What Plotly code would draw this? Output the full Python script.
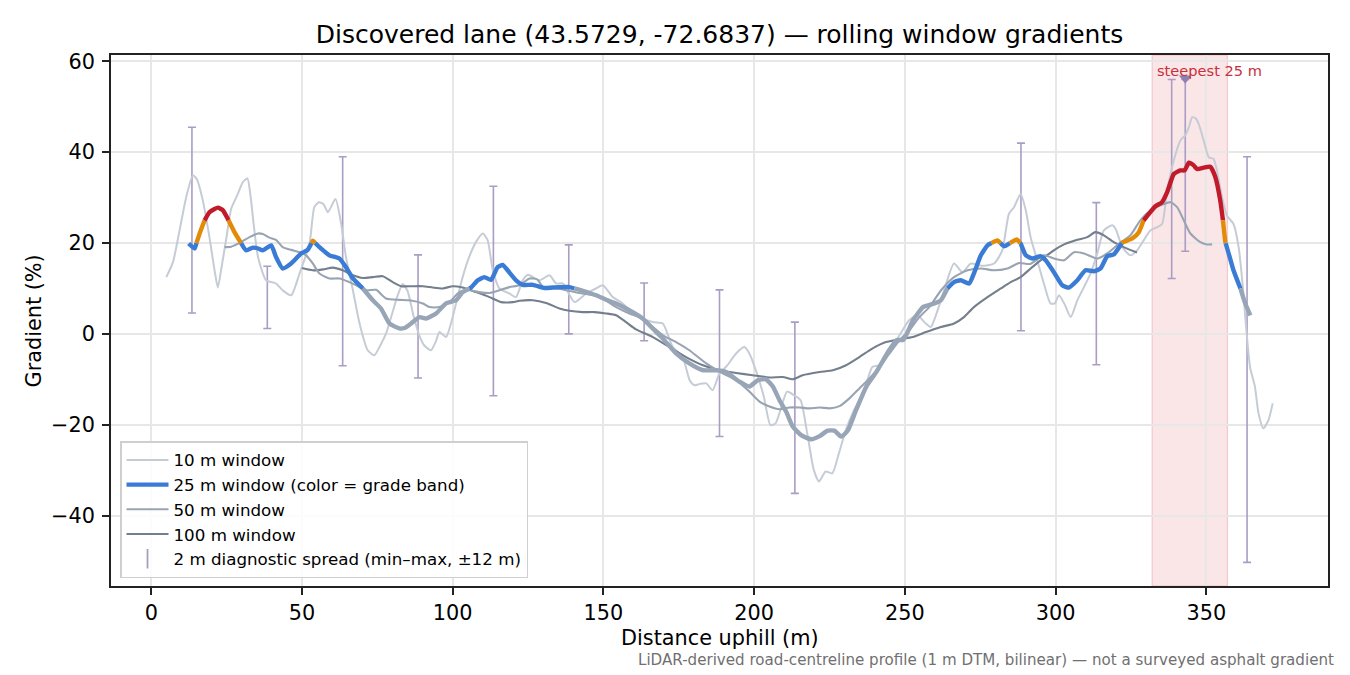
import plotly.graph_objects as go

# ---------------- data ----------------
x10 = [5.0, 7.2, 9.4, 11.6, 13.8, 15.1, 17.1, 19.3, 21.0, 22.1, 23.4, 24.9, 26.5, 28.5, 30.5, 31.9,
       33.0, 34.0, 35.4, 38.1, 41.4, 43.6, 46.4, 49.2, 52.5, 54.1, 55.6, 57.2, 58.6, 61.1, 63.0,
       64.6, 66.9, 69.1, 71.8, 74.0, 76.0, 77.9, 79.5, 81.5, 83.4, 85.0, 87.0, 89.0, 90.5, 92.8,
       94.5, 95.6, 97.8, 99.5, 101.1, 103.3, 105.5, 107.7, 110.0, 111.6, 113.3, 115.5, 118.8,
       121.0, 123.2, 125.0, 128.8, 132.1, 134.3, 136.5, 140.4, 144.3, 147.5, 149.8, 153.1, 156.4,
       158.6, 161.9, 166.4, 169.7, 173.0, 176.3, 178.6, 180.2, 182.0, 184.1, 186.2, 188.5, 191.0,
       194.0, 196.7, 198.4, 200.9, 203.2, 205.4, 207.1, 208.7, 210.9, 213.2, 215.4, 217.6, 219.8,
       221.5, 223.7, 225.9, 228.1, 230.4, 233.1, 236.5, 239.2, 241.5, 244.2, 247.5, 251.4, 254.1,
       256.9, 258.6, 260.5, 263.0, 266.3, 269.1, 271.9, 275.5, 279.6, 282.3, 284.5, 286.2, 288.4,
       290.1, 291.7, 293.9, 296.1, 298.3, 299.7, 301.1, 303.0, 305.0, 307.2, 309.4, 311.6, 313.8,
       316.0, 318.8, 320.0, 322.1, 324.8, 327.0, 329.2, 331.5, 333.7, 335.3, 337.0, 339.2, 341.4,
       343.0, 344.2, 345.3, 346.4, 347.5, 349.1, 350.8, 352.4, 353.5, 355.2, 356.8, 359.0, 360.7,
       362.4, 362.9, 364.5, 366.1, 367.3, 368.9, 370.6, 372.0]
g10 = [12.5, 15.8, 22.8, 30.1, 34.9, 34.1, 29.4, 21.3, 14.0, 10.2, 15.0, 21.0, 27.5, 30.5, 33.5, 34.2,
       30.0, 24.0, 17.0, 11.8, 11.1, 9.6, 8.5, 13.3, 19.9, 27.9, 29.0, 28.5, 26.8, 29.7, 24.2,
       16.9, 9.6, 2.3, -3.6, -4.7, -2.5, 0.1, 3.5, 8.0, 11.0, 9.5, 4.0, -0.5, -2.5, -3.6,
       -1.5, 0.4, -0.7, 2.5, 6.7, 12.5, 17.0, 20.2, 22.1, 20.6, 14.0, 10.0, 8.9,
       8.1, 11.8, 13.0, 11.8, 12.9, 11.1, 11.1, 7.0, 8.9, 10.0, 10.7, 8.1, 6.7,
       5.2, 3.7, 2.6, 2.3, -2.9, -5.1, -10.2, -11.3, -11.0, -10.9, -12.4, -8.7, -7.0,
       -4.3, -2.9, -4.3, -8.7, -13.8, -20.1, -19.7, -16.8, -12.7, -13.5, -14.6, -21.9, -30.0,
       -32.5, -30.3, -30.7, -26.3, -21.2, -16.8, -12.4, -7.3, -6.9, -3.6, -1.0, 3.0, 4.1,
       2.3, 1.5, 4.5, 9.6, 15.5, 13.6, 15.5, 15.0, 15.5, 18.4, 26.4, 27.9, 30.8,
       27.2, 21.3, 16.2, 11.1, 6.7, 6.7, 8.5, 6.5, 3.7, 7.4, 10.3, 13.3, 17.7,
       22.8, 23.9, 23.0, 19.1, 17.3, 18.4, 20.6, 22.8, 23.5, 24.2, 31.6, 38.2, 42.6,
       43.7, 45.5, 47.7, 47.5, 46.2, 42.6, 38.9, 38.5, 36.0, 30.1, 26.1, 24.2, 19.1,
       8.1, 3.7, -7.3, -11.6, -17.5, -20.8, -19.0, -15.3]

x25 = [12.4, 14.4, 16.0, 17.7, 19.3, 21.0, 22.1, 23.8, 25.4, 27.6, 29.8, 31.5, 33.7, 35.5, 37.0,
       39.8, 41.4, 43.6, 46.4, 49.7, 51.9, 53.6, 55.8, 59.1, 62.4, 64.6, 66.9, 70.2, 73.5, 76.2,
       79.0, 82.3, 84.0, 86.2, 89.0, 91.2, 94.5, 97.8, 101.1, 103.3, 106.1, 108.3, 110.5, 112.7,
       114.9, 116.6, 118.2, 121.0, 123.2, 126.6, 130.4, 133.2, 138.7, 143.1, 147.6, 150.9, 154.2,
       157.5, 163.0, 167.5, 169.7, 174.1, 178.5, 183.0, 187.4, 190.7, 195.1, 198.4, 201.2, 203.9,
       206.2, 208.4, 210.6, 212.8, 215.6, 218.9, 221.7, 224.4, 226.6, 228.9, 231.1, 233.8, 237.2,
       240.5, 243.8, 247.2, 249.5, 252.7, 256.0, 258.8, 261.9, 264.1, 266.3, 268.5, 271.3, 272.9,
       275.2, 277.4, 279.0, 280.7, 282.9, 285.1, 287.1, 288.4, 290.1, 292.3, 295.0, 296.7, 299.4,
       302.2, 304.4, 307.2, 309.9, 312.7, 314.9, 317.1, 319.3, 322.1, 325.4, 327.6, 329.2, 330.9,
       333.1, 335.3, 337.0, 339.2, 341.4, 342.8, 344.2, 345.8, 346.9, 349.1, 351.3, 353.0, 354.6,
       355.5, 356.3, 357.4, 359.0, 361.3, 362.9, 364.6]
g25 = [19.9, 18.8, 22.0, 25.0, 26.8, 27.5, 27.8, 27.2, 25.3, 22.4, 20.0, 18.4, 19.0, 18.8, 18.4,
       19.5, 16.9, 14.4, 15.5, 17.7, 18.5, 20.5, 19.1, 17.3, 16.6, 14.7, 12.2, 10.0, 7.4, 5.6,
       2.3, 1.2, 1.3, 2.3, 3.7, 3.4, 4.5, 6.7, 7.4, 9.2, 10.2, 11.8, 12.5, 11.9,
       14.7, 15.2, 14.0, 11.8, 10.8, 10.8, 10.1, 10.2, 10.3, 9.5, 8.5, 7.5, 6.7,
       5.6, 3.4, 0.4, -1.0, -4.3, -6.5, -8.0, -8.0, -8.4, -10.5, -11.6, -10.2, -10.0,
       -11.6, -14.6, -17.1, -20.4, -22.3, -23.2, -22.5, -21.3, -21.3, -22.6, -21.2, -16.8, -11.6,
       -8.4, -4.7, -1.4, -1.3, 3.0, 5.9, 6.5, 7.4, 10.0, 11.4, 11.8, 11.1, 13.3,
       17.3, 19.5, 20.1, 20.6, 19.3, 20.1, 20.8, 19.9, 17.3, 16.6, 17.1, 16.2, 13.6,
       10.7, 10.2, 11.8, 14.0, 13.8, 14.4, 17.1, 17.5, 20.1, 21.0, 22.4, 25.0, 26.4,
       28.1, 29.0, 31.2, 35.2, 36.0, 36.0, 37.7, 37.1, 36.3, 36.6, 36.8, 34.5, 29.4,
       25.0, 20.2, 17.7, 14.0, 10.0, 6.7, 4.1]

x50 = [24.3, 26.5, 29.8, 32.6, 35.4, 37.0, 39.2, 41.4, 43.6, 46.4, 49.2, 51.4, 53.6, 55.8, 59.1,
       62.4, 65.7, 68.0, 71.3, 74.6, 77.9, 82.3, 85.6, 90.1, 92.3, 95.6, 98.9, 102.2, 105.5, 108.8,
       112.2, 115.5, 118.8, 122.1, 125.5, 128.0, 130.4, 133.0, 137.6, 142.0, 146.5, 149.8, 154.2,
       158.6, 163.0, 166.4, 169.7, 174.1, 178.5, 184.1, 189.6, 194.0, 198.4, 201.8, 205.1, 208.4,
       211.7, 215.0, 218.3, 221.7, 225.0, 228.3, 231.6, 234.9, 238.2, 241.6, 244.9, 248.2, 251.5,
       254.8, 258.1, 262.0, 266.3, 270.8, 275.2, 279.6, 284.0, 287.9, 291.5, 296.1, 299.4, 302.8,
       306.1, 309.4, 313.8, 317.1, 320.4, 324.8, 328.1, 331.5, 334.8, 338.1, 340.3, 342.5, 344.7,
       348.0, 350.2, 351.9]
g50 = [19.1, 19.2, 20.2, 21.3, 22.1, 22.0, 21.2, 20.7, 19.1, 18.5, 18.0, 17.3, 15.5, 13.3, 12.2,
       12.2, 11.4, 10.7, 9.6, 9.7, 7.8, 7.5, 7.4, 6.7, 5.9, 5.9, 7.0, 9.2, 9.6, 9.2,
       9.0, 9.6, 10.3, 10.7, 12.2, 12.0, 10.0, 10.3, 9.6, 9.0, 8.5, 7.8, 5.9,
       4.5, 3.4, 1.5, -0.3, -1.8, -3.6, -6.5, -8.7, -10.2, -12.7, -14.9, -16.0, -16.6,
       -16.2, -16.2, -16.4, -16.2, -16.4, -15.9, -14.2, -12.0, -9.8, -7.3, -4.3, -1.4, 0.8,
       3.7, 5.9, 9.6, 12.5, 14.0, 14.4, 14.0, 14.4, 15.6, 15.4, 17.3, 16.6, 16.2,
       18.0, 17.7, 16.6, 17.7, 19.5, 21.7, 25.0, 27.2, 28.3, 29.0, 27.9, 25.0, 22.1,
       20.2, 19.7, 19.7]

x100 = [50.0, 53.6, 57.0, 60.2, 63.5, 66.9, 70.2, 73.5, 76.8, 80.1, 82.9, 86.5, 90.1, 93.4, 96.7,
        100.0, 103.3, 107.7, 112.2, 116.0, 119.9, 122.2, 126.6, 131.0, 135.4, 138.7, 143.1, 147.0,
        150.9, 154.2, 157.5, 160.8, 166.4, 171.9, 177.4, 183.0, 188.5, 194.0, 199.5, 205.1, 209.5,
        212.8, 216.1, 221.7, 226.1, 230.5, 234.9, 239.3, 243.7, 248.2, 252.6, 257.0, 261.9, 266.3,
        269.6, 272.9, 277.4, 281.8, 285.1, 288.4, 291.7, 295.0, 299.4, 302.8, 307.2, 310.5, 313.2,
        316.0, 319.3, 322.6, 327.0]
g100 = [14.5, 14.0, 14.2, 14.6, 14.0, 12.9, 12.3, 12.5, 12.7, 11.4, 10.5, 10.5, 10.5, 10.2, 10.0,
        10.5, 10.2, 9.2, 8.1, 7.0, 7.0, 7.3, 7.4, 6.8, 5.6, 5.1, 4.8, 4.8,
        4.5, 4.1, 2.6, 1.0, -0.7, -2.9, -5.1, -6.9, -8.0, -8.6, -9.1, -9.6, -9.5,
        -10.0, -9.1, -8.4, -8.0, -6.9, -5.1, -3.2, -1.8, -1.2, -0.7, 0.4, 1.5, 2.3,
        3.7, 5.9, 8.1, 10.0, 11.4, 12.5, 14.4, 16.2, 18.4, 19.7, 20.7, 21.3, 22.4,
        21.7, 20.2, 19.1, 17.9]

spread_x = [13.5, 38.5, 63.5, 88.5, 113.5, 138.5, 163.5, 188.5, 213.5, 288.5, 313.5, 338.5, 343.0, 363.5]
spread_lo = [4.6, 1.2, -7.0, -9.7, -13.6, 0.0, -1.5, -22.6, -35.1, 0.7, -6.8, 12.2, 18.2, -50.3]
spread_hi = [45.5, 14.9, 39.0, 17.4, 32.5, 19.6, 11.2, 9.7, 2.6, 42.0, 28.9, 56.0, 56.0, 39.0]

steep_start, steep_end = 332.0, 357.0
steep_marker_x = [343.0]
steep_marker_y = [56.3]

band_limits = [10, 20, 25]
band_colors = ["#97a5b6", "#3a7bd5", "#e38b06", "#c11b2b"]

x_ticks = [0, 50, 100, 150, 200, 250, 300, 350]
y_ticks = [-40, -20, 0, 20, 40, 60]

# ---------------- styles ----------------
FONT = "DejaVu Sans"
C10, C50, C100 = "#c5ccd6", "#99a4b3", "#747f8d"
CSPREAD = "#a99dc4"


def band_of(v):
    b = 0
    for t in band_limits:
        if v >= t:
            b += 1
    return b


# split the 25 m series into runs of the same grade band (cut at threshold crossings)
def band_runs(xs, ys):
    px, py = [xs[0]], [ys[0]]
    for i in range(1, len(xs)):
        x0, y0, x1, y1 = xs[i - 1], ys[i - 1], xs[i], ys[i]
        cuts = []
        for t in band_limits:
            if (y0 - t) * (y1 - t) < 0:
                f = (t - y0) / (y1 - y0)
                cuts.append((f, x0 + f * (x1 - x0), t))
        for _, cx, cy in sorted(cuts):
            px.append(cx)
            py.append(cy)
        px.append(x1)
        py.append(y1)
    runs = []
    for i in range(1, len(px)):
        b = band_of((py[i - 1] + py[i]) / 2)
        if runs and runs[-1][0] == b:
            runs[-1][1].append(px[i])
            runs[-1][2].append(py[i])
        else:
            runs.append([b, [px[i - 1], px[i]], [py[i - 1], py[i]]])
    return runs


fig = go.Figure()

# diagnostic spread (error bars)
fig.add_trace(go.Scatter(
    x=spread_x, y=spread_lo, mode="markers",
    marker=dict(size=1, opacity=0),
    error_y=dict(type="data", symmetric=False,
                 array=[h - l for h, l in zip(spread_hi, spread_lo)],
                 arrayminus=[0] * len(spread_lo),
                 color=CSPREAD, thickness=1.6, width=4),
    showlegend=False, hoverinfo="skip"))

fig.add_trace(go.Scatter(x=x10, y=g10, mode="lines", name="10 m window",
                         line=dict(color=C10, width=2, shape="spline", smoothing=0.6),
                         legendrank=1))
fig.add_trace(go.Scatter(x=x100, y=g100, mode="lines", name="100 m window",
                         line=dict(color=C100, width=2.1, shape="spline", smoothing=0.6),
                         legendrank=4))
fig.add_trace(go.Scatter(x=x50, y=g50, mode="lines", name="50 m window",
                         line=dict(color=C50, width=2.1, shape="spline", smoothing=0.6),
                         legendrank=3))

for b, rx, ry in band_runs(x25, g25):
    fig.add_trace(go.Scatter(x=rx, y=ry, mode="lines", showlegend=False,
                             line=dict(color=band_colors[b], width=4.4,
                                       shape="spline", smoothing=0.5),
                             hoverinfo="x+y"))

# legend-only entries
fig.add_trace(go.Scatter(x=[None], y=[None], mode="lines",
                         name="25 m window (color = grade band)",
                         line=dict(color=band_colors[1], width=4.4), legendrank=2))
fig.add_trace(go.Scatter(x=[None], y=[None], mode="markers",
                         name="2 m diagnostic spread (min\u2013max, \u00b112 m)",
                         marker=dict(symbol="line-ns-open", size=14, color=CSPREAD,
                                     line=dict(color=CSPREAD, width=1.8)),
                         legendrank=5))

# steepest marker
fig.add_trace(go.Scatter(x=steep_marker_x, y=steep_marker_y, mode="markers",
                         marker=dict(symbol="triangle-down", size=11, color="#8d81b3"),
                         showlegend=False))

fig.add_shape(type="rect", xref="x", yref="paper", x0=steep_start, x1=steep_end, y0=0, y1=1,
              fillcolor="rgba(214,40,57,0.12)", line=dict(color="rgba(214,40,57,0.2)", width=1.2),
              layer="below")

fig.add_annotation(x=steep_start + 1.0, y=57.9, xref="x", yref="y", text="steepest 25 m",
                   showarrow=False, xanchor="left", yanchor="middle",
                   font=dict(family=FONT, size=14.6, color="#c9303c"))

fig.add_annotation(x=1.0066, y=-0.139, xref="paper", yref="paper",
                   text="LiDAR-derived road-centreline profile (1 m DTM, bilinear) \u2014 not a surveyed asphalt gradient",
                   showarrow=False, xanchor="right", yanchor="middle",
                   font=dict(family=FONT, size=15.1, color="#707070"))

fig.add_annotation(x=0.5, y=-0.097, xref="paper", yref="paper", text="Distance uphill (m)",
                   showarrow=False, xanchor="center", yanchor="middle",
                   font=dict(family=FONT, size=20.8, color="black"))
fig.add_annotation(x=-0.0633, y=0.5, xref="paper", yref="paper", text="Gradient (%)",
                   textangle=-90, showarrow=False, xanchor="center", yanchor="middle",
                   font=dict(family=FONT, size=20.8, color="black"))

axis_common = dict(showgrid=True, gridcolor="#e7e7e7", gridwidth=1.6, zeroline=False,
                   showline=True, linecolor="#222222", linewidth=1.7, mirror=True,
                   ticks="outside", ticklen=7, tickwidth=1.7, tickcolor="#222222",
                   tickfont=dict(family=FONT, size=20.8, color="black"))

fig.update_layout(
    width=1350, height=675,
    margin=dict(l=111, r=22, t=55, b=89),
    paper_bgcolor="white", plot_bgcolor="white",
    font=dict(family=FONT, color="black"),
    title=dict(text="Discovered lane (43.5729, -72.6837) \u2014 rolling window gradients",
               x=0.5, xref="paper", xanchor="center", y=1 - 34 / 675, yref="container",
               yanchor="middle", font=dict(family=FONT, size=25, color="black")),
    xaxis=dict(range=[-13.35, 390.35], tickvals=x_ticks, **axis_common),
    yaxis=dict(range=[-55.5, 61.4], tickvals=y_ticks, ticklabelstandoff=3, **axis_common),
    legend=dict(x=0.0074, y=0.015, xanchor="left", yanchor="bottom",
                bgcolor="rgba(255,255,255,0.85)", bordercolor="#cfcfcf", borderwidth=1.5,
                font=dict(family=FONT, size=16.7, color="black"), tracegroupgap=0,
                itemwidth=42),
    showlegend=True,
)

fig.write_html("out.html")
